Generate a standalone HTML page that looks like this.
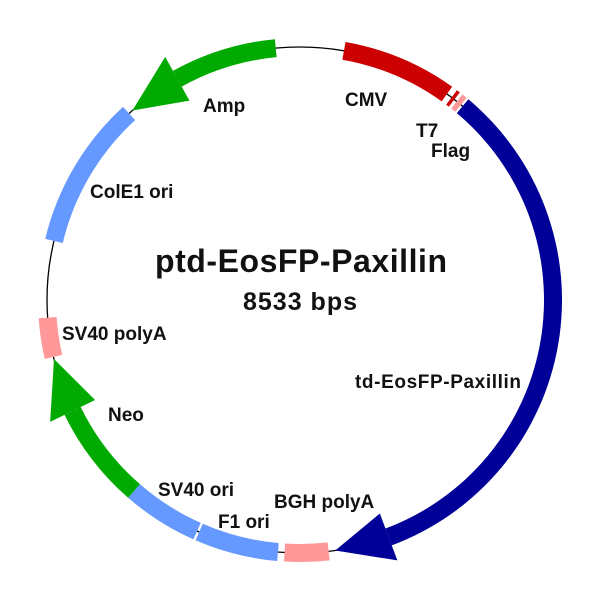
<!DOCTYPE html>
<html><head><meta charset="utf-8"><style>
body{margin:0;background:#fff}
svg text{font-family:"Liberation Sans",Arial,sans-serif;font-weight:bold;fill:#111}
</style></head><body>
<svg id="s" width="600" height="600" viewBox="0 0 600 600" xmlns="http://www.w3.org/2000/svg">
<circle cx="300" cy="300" r="253" fill="none" stroke="#000" stroke-width="1.3"/>
<g id="g"></g>
<text x="301" y="272" font-size="32" text-anchor="middle" textLength="292">ptd-EosFP-Paxillin</text>
<text x="300" y="310" font-size="25" text-anchor="middle" textLength="114">8533 bps</text>
<text x="203" y="112" font-size="19">Amp</text>
<text x="345" y="106" font-size="19">CMV</text>
<text x="416" y="137" font-size="19">T7</text>
<text x="431" y="157" font-size="19">Flag</text>
<text x="90" y="198" font-size="19">ColE1 ori</text>
<text x="62" y="340" font-size="19">SV40 polyA</text>
<text x="355" y="388" font-size="19" textLength="166">td-EosFP-Paxillin</text>
<text x="108" y="421" font-size="19">Neo</text>
<text x="158" y="496" font-size="19">SV40 ori</text>
<text x="274" y="508" font-size="19">BGH polyA</text>
<text x="218" y="528" font-size="19">F1 ori</text>
</svg>
<script>
var C=300,R=253,g=document.getElementById('g');
function p(a,r){var t=a*Math.PI/180;return (C+r*Math.sin(t)).toFixed(2)+','+(C-r*Math.cos(t)).toFixed(2);}
function arc(a1,a2,col,w){w=w||9;var ro=R+w,ri=R-w,l=(Math.abs(a2-a1)>180)?1:0;
var d='M'+p(a1,ro)+' A'+ro+','+ro+' 0 '+l+' 1 '+p(a2,ro)+' L'+p(a2,ri)+' A'+ri+','+ri+' 0 '+l+' 0 '+p(a1,ri)+'Z';
add(d,col);}
function add(d,col){var e=document.createElementNS('http://www.w3.org/2000/svg','path');e.setAttribute('d',d);e.setAttribute('fill',col);g.appendChild(e);}
function arrowCW(a1,tip,col){var hb=tip-12.5;arc(a1,hb,col);add('M'+p(hb,R+25)+' L'+p(tip,R)+' L'+p(hb,R-25)+'Z',col);}
function arrowCCW(a1,tip,col){var hb=tip+12.5;arc(hb,a1,col);add('M'+p(hb,R+25)+' L'+p(tip,R)+' L'+p(hb,R-25)+'Z',col);}
arc(10,35.5,'#cc0000');
arc(36.8,37.6,'#cc0000');
arc(38.3,39.5,'#ff9999');
arrowCW(40,172,'#000099');
arc(173.5,183.5,'#ff9999');
arc(185,203.5,'#6699ff');
arc(204,221,'#6699ff');
arrowCW(221,256.5,'#00aa00');
arc(257,266,'#ff9999');
arc(283.5,317.5,'#6699ff');
arrowCCW(354.5,318.5,'#00aa00');
</script>
</body></html>
